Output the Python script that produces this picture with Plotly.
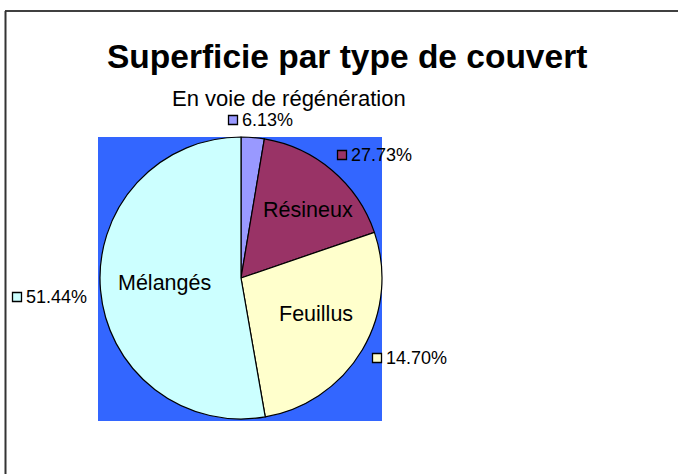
import plotly.graph_objects as go

# ---- data ----
categories = ["En voie de régénération", "Résineux", "Feuillus", "Mélangés"]
slice_values = [2.65, 17.1, 27.5, 52.75]
pct_labels = ["6.13%", "27.73%", "14.70%", "51.44%"]

# ---- style ----
colors = ["#9999FF", "#993366", "#FFFFCC", "#CCFFFF"]
W, H = 678, 474
FONT = "Liberation Sans, Arial, sans-serif"


def px(x):
    return x / W


def py(y):
    return 1 - y / H


cx, cy, r = 241, 278, 141

fig = go.Figure()
fig.add_trace(go.Pie(
    labels=categories,
    values=slice_values,
    sort=False,
    direction="clockwise",
    rotation=0,
    textinfo="none",
    hoverinfo="label+percent",
    marker=dict(colors=colors, line=dict(color="black", width=1.2)),
    domain=dict(x=[px(cx - r), px(cx + r)], y=[py(cy + r), py(cy - r)]),
    showlegend=False,
))

shapes = [
    # blue plot-area background
    dict(type="rect", xref="paper", yref="paper", layer="below",
         x0=px(98), x1=px(382), y0=py(421), y1=py(137),
         fillcolor="#3366FF", line=dict(width=0)),
    # chart frame (top and left), running past the visible edge
    dict(type="line", xref="paper", yref="paper",
         x0=px(5), x1=px(760), y0=py(11), y1=py(11),
         line=dict(color="black", width=1.5)),
    dict(type="line", xref="paper", yref="paper",
         x0=px(5.5), x1=px(5.5), y0=py(11), y1=py(560),
         line=dict(color="#333333", width=2)),
]

annotations = [
    dict(text="<b>Superficie par type de couvert</b>", x=px(347), y=py(56),
         font=dict(size=33.5, color="black", family=FONT)),
    dict(text=categories[0], x=px(289), y=py(98),
         font=dict(size=22, color="black", family=FONT)),
    dict(text=categories[1], x=px(308), y=py(210),
         font=dict(size=21.5, color="black", family=FONT)),
    dict(text=categories[2], x=px(316), y=py(314),
         font=dict(size=21.5, color="black", family=FONT)),
    dict(text=categories[3], x=px(164), y=py(283),
         font=dict(size=21.5, color="black", family=FONT)),
]

# percentage labels with legend-key squares
pct_pos = [(233, 120), (342, 155), (377, 358), (17, 297)]
for lab, col, (sx, sy) in zip(pct_labels, colors, pct_pos):
    shapes.append(dict(type="rect", xref="paper", yref="paper",
                       x0=px(sx - 4.5), x1=px(sx + 4.5), y0=py(sy + 4.5), y1=py(sy - 4.5),
                       fillcolor=col, line=dict(color="black", width=1.3)))
    annotations.append(dict(text=lab, x=px(sx + 7), y=py(sy), xanchor="left",
                            font=dict(size=18, color="black", family=FONT)))

for a in annotations:
    a.setdefault("xref", "paper")
    a.setdefault("yref", "paper")
    a.setdefault("xanchor", "center")
    a["yanchor"] = "middle"
    a["showarrow"] = False

fig.update_layout(
    width=W, height=H,
    margin=dict(l=0, r=0, t=0, b=0),
    paper_bgcolor="white",
    plot_bgcolor="white",
    shapes=shapes,
    annotations=annotations,
    font=dict(family=FONT),
)

fig.write_html("out.html", config={"displayModeBar": False},
               post_script="document.body.style.margin='0';document.body.style.overflow='hidden';")
